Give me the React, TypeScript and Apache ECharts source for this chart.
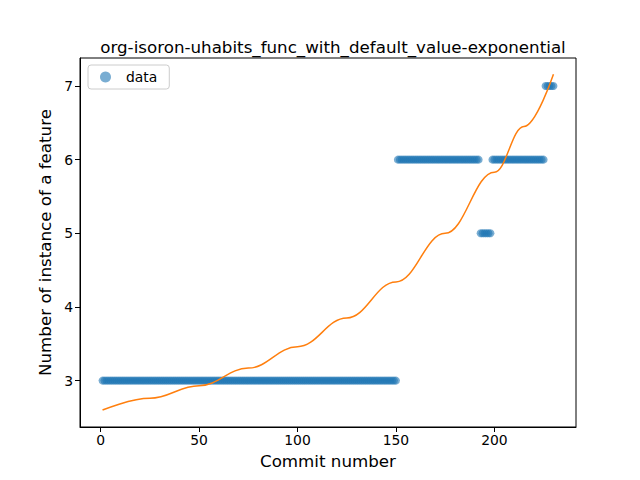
import React, { useEffect, useRef } from 'react';
import * as echarts from 'echarts';

// runs of [firstCommit, lastCommit, count]
const runs: [number, number, number][] = [
  [1, 150, 3],
  [151, 192, 6],
  [193, 198, 5],
  [199, 225, 6],
  [226, 230, 7],
];

// exponential fit
const fitX = [1, 25, 50, 75, 100, 125, 150, 175, 200, 215, 230];
const fitY = [2.6, 2.76, 2.93, 3.17, 3.46, 3.85, 4.34, 5.0, 5.83, 6.45, 7.16];

const xTicks = [0, 50, 100, 150, 200];
const yTicks = [3, 4, 5, 6, 7];

const App: React.FC = () => {
  const chartRef = useRef<HTMLDivElement | null>(null);

  useEffect(() => {
    let chart: echarts.ECharts | null = null;
    if (chartRef.current) {
      chart = echarts.init(chartRef.current, undefined, { renderer: 'svg' });

      const points: number[][] = [];
      runs.forEach(([a, b, v]) => {
        for (let c = a; c <= b; c++) points.push([c, v]);
      });

      const axisCommon = {
        type: 'value',
        axisLine: { show: true, onZero: false, lineStyle: { color: '#000' } },
        axisTick: { show: true, length: 5, lineStyle: { color: '#000' } },
        axisLabel: { color: '#000', fontSize: 13.9, fontFamily: 'DejaVu Sans' },
        splitLine: { show: false },
        nameLocation: 'middle',
        nameTextStyle: { color: '#000', fontSize: 16.7, fontFamily: 'DejaVu Sans' },
      };

      chart.setOption({
        animation: false,
        title: {
          text: 'org-isoron-uhabits_func_with_default_value-exponential',
          left: 328,
          textAlign: 'center',
          top: 33,
          textStyle: { fontSize: 16.7, fontWeight: 'normal', color: '#000', fontFamily: 'DejaVu Sans' },
        },
        legend: {
          data: [{ name: 'data', icon: 'circle' }],
          left: 88,
          top: 65,
          itemWidth: 11,
          itemHeight: 11,
          itemGap: 10,
          padding: [5, 12, 5, 12],
          borderColor: '#ccc',
          borderWidth: 1,
          borderRadius: 3,
          textStyle: { fontSize: 13.9, color: '#000', fontFamily: 'DejaVu Sans', padding: [0, 0, 0, 10] },
        },
        grid: { left: 80, right: 64, top: 58, bottom: 53, show: true, borderColor: '#000', borderWidth: 1 },
        xAxis: {
          ...axisCommon,
          min: -10.45,
          max: 241.45,
          name: 'Commit number',
          nameGap: 25,
          axisTick: { ...axisCommon.axisTick, customValues: xTicks },
          axisLabel: { ...axisCommon.axisLabel, customValues: xTicks, margin: 6 },
        },
        yAxis: {
          ...axisCommon,
          min: 2.37,
          max: 7.38,
          name: 'Number of instance of a feature',
          nameGap: 27,
          axisTick: { ...axisCommon.axisTick, customValues: yTicks },
          axisLabel: { ...axisCommon.axisLabel, customValues: yTicks, margin: 7 },
        },
        series: [
          {
            name: 'data',
            type: 'scatter',
            data: points,
            symbolSize: 8,
            itemStyle: { color: '#1f77b4', opacity: 0.6 },
          },
          {
            name: 'fit',
            type: 'line',
            data: fitX.map((x, i) => [x, fitY[i]]),
            smooth: 0.4,
            smoothMonotone: 'x',
            showSymbol: false,
            lineStyle: { color: '#ff7f0e', width: 1.5 },
            itemStyle: { color: '#ff7f0e' },
          },
        ],
      });
    }
    return () => {
      chart?.dispose();
    };
  }, []);

  return (
    <div
      ref={chartRef}
      style={{ position: 'fixed', left: 0, top: 0, width: 640, height: 480, background: '#fff' }}
    ></div>
  );
};

export default App;
